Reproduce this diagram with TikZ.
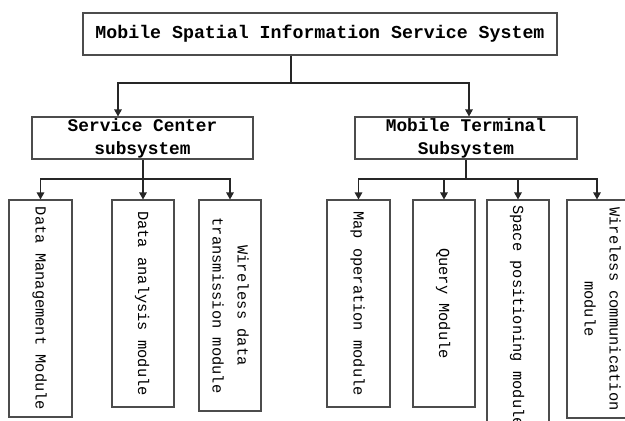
\documentclass[tikz,border=0pt]{standalone}
\usepackage{fontspec}
\setmonofont{Liberation Mono}
\usepackage{graphicx}
\usetikzlibrary{arrows.meta}
\tikzset{
    box/.style={draw=black!70, line width=1.1pt, fill=white, inner sep=0pt,
        font=\ttfamily\bfseries, align=center},
    modbox/.style={draw=black!70, line width=1.1pt, fill=white, inner sep=0pt,
        font=\ttfamily\fontsize{15.4}{25}\selectfont},
    link/.style={line width=1.3pt, draw=black!85},
    arr/.style={link, -{Triangle[width=7.5pt,length=7pt]}},
}
\newcommand{\vtext}[1]{\rotatebox{-90}{\begin{tabular}{@{}c@{}}#1\end{tabular}}}

\begin{document}
\begin{tikzpicture}[x=1pt,y=-1pt]
        \useasboundingbox (0,0) rectangle (625,421);
        \fill[white] (0,0) rectangle (625,421);
        \clip (0,0) rectangle (625,421);
        % system and subsystems
        \node[box, minimum width=474pt, minimum height=42pt, font=\ttfamily\bfseries\fontsize{18.25}{22}\selectfont]
            (sys) at (320,34) {Mobile Spatial Information Service System};
        \node[box, minimum width=221pt, minimum height=42pt, font=\ttfamily\bfseries\fontsize{17.8}{23}\selectfont]
            (sc) at (142.5,138) {Service Center\\subsystem};
        \node[box, minimum width=222pt, minimum height=42pt, font=\ttfamily\bfseries\fontsize{17.8}{23}\selectfont]
            (mt) at (466,138) {Mobile Terminal\\Subsystem};
        % modules
        \node[modbox, minimum width=63pt, minimum height=217pt] (dm) at (40.5,308.5) {\vtext{Data Management Module}};
        \node[modbox, minimum width=62pt, minimum height=207pt] (da) at (143,303.5) {\vtext{Data analysis module}};
        \node[modbox, minimum width=62pt, minimum height=211pt] (wd) at (230,305.5) {\vtext{Wireless data\\transmission module}};
        \node[modbox, minimum width=63pt, minimum height=207pt] (mo) at (358.5,303.5) {\vtext{Map operation module}};
        \node[modbox, minimum width=62pt, minimum height=207pt] (qm) at (444,303.5) {\vtext{Query Module}};
        \node[modbox, minimum width=62pt, minimum height=232pt] (sp) at (518,316) {\vtext{Space positioning module}};
        \node[modbox, minimum width=70pt, minimum height=218pt] (wc) at (602,309) {\vtext{Wireless communication\\module}};
        % connectors
        \coordinate (sysjoin) at (291,83);
        \draw[link] (sys.south -| sysjoin) -- (sysjoin);
        \draw[arr] (sysjoin) -| ([xshift=-24.5pt]sc.north);
        \draw[arr] (sysjoin) -| ([xshift=3pt]mt.north);
        \coordinate (scjoin) at (143,179);
        \draw[link] (sc.south -| scjoin) -- (scjoin);
        \foreach \m in {dm,da,wd}
            \draw[arr] (scjoin) -| (\m.north);
        \coordinate (mtjoin) at (466,179);
        \draw[link] (mt.south -| mtjoin) -- (mtjoin);
        \foreach \m in {mo,qm,sp}
            \draw[arr] (mtjoin) -| (\m.north);
        \draw[arr] (mtjoin) -| ([xshift=-5pt]wc.north);
    \end{tikzpicture}
\end{document}
